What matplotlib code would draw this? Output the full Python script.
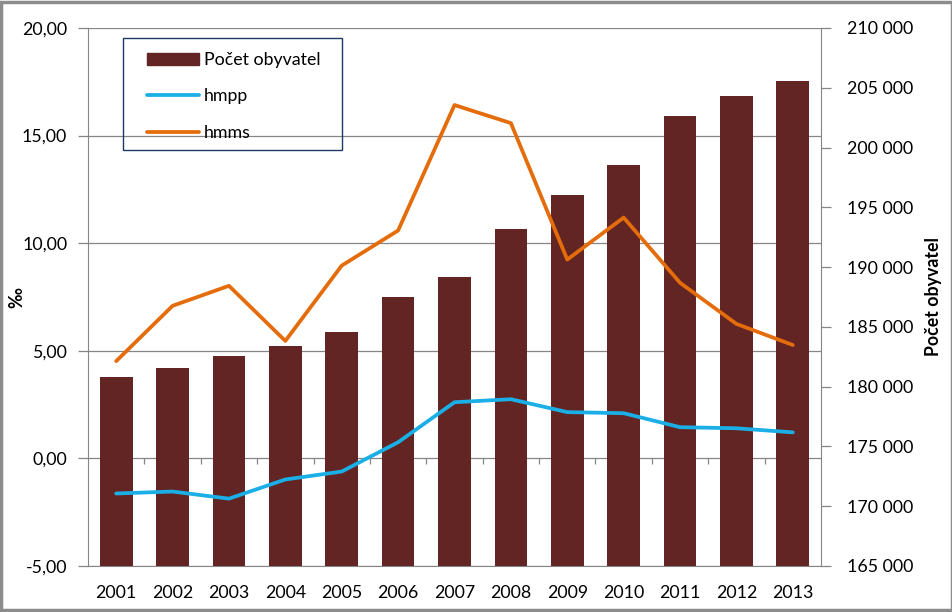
import numpy as np
import matplotlib.pyplot as plt
from matplotlib.ticker import FuncFormatter
from matplotlib.patches import Rectangle

# --- data ---
years = ["2001", "2002", "2003", "2004", "2005", "2006", "2007",
         "2008", "2009", "2010", "2011", "2012", "2013"]
pocet_obyvatel = [180800, 181600, 182550, 183400, 184550, 187500, 189200,
                  193200, 196050, 198500, 202600, 204300, 205550]
hmpp = [-1.63, -1.54, -1.87, -0.98, -0.61, 0.75, 2.61,
        2.75, 2.15, 2.10, 1.45, 1.40, 1.21]
hmms = [4.52, 7.09, 8.02, 5.46, 8.96, 10.59, 16.42,
        15.58, 9.24, 11.19, 8.16, 6.25, 5.27]

left_ticks = [-5, 0, 5, 10, 15, 20]
right_ticks = list(range(165000, 210001, 5000))

plt.rcParams["font.family"] = ["Lato", "DejaVu Sans"]
plt.rcParams["font.size"] = 12.8

BAR = "#632523"
BLUE = "#1AAFE6"
ORANGE = "#E46C0A"
GRID = "#868686"

fig = plt.figure(figsize=(9.53, 6.12), dpi=100)
W, H = 953, 612
pos = [88 / W, 1 - 566 / H, (821 - 88) / W, (566 - 28) / H]

x = np.arange(len(years))

# left axis: gridlines + ticks (bottom layer)
ax = fig.add_axes(pos)
ax.set_ylim(-5, 20)
ax.set_xlim(-0.5, len(years) - 0.5)
ax.set_yticks(left_ticks)
ax.yaxis.set_major_formatter(FuncFormatter(lambda v, p: f"{v:.2f}".replace(".", ",")))
for t in left_ticks:
    ax.axhline(t, color=GRID, lw=0.9, zorder=0)
ax.set_xticks(x)
ax.set_xticklabels(years)
ax.tick_params(axis="x", length=0, pad=14)
ax.tick_params(axis="y", length=7, color=GRID, width=0.9, pad=8)
for s in ["top", "right"]:
    ax.spines[s].set_visible(False)
for s in ["left", "bottom"]:
    ax.spines[s].set_color(GRID)
ax.set_ylabel("‰", fontweight="bold")
ax.yaxis.set_label_coords(-(88 - 25) / (821 - 88), 0.5)

# right axis: bars
ax2 = ax.twinx()
ax2.bar(x, pocet_obyvatel, width=0.58, color=BAR, zorder=2)
ax2.set_ylim(165000, 210000)
ax2.set_yticks(right_ticks)
ax2.yaxis.set_major_formatter(FuncFormatter(lambda v, p: f"{int(v):,}".replace(",", " ")))
ax2.tick_params(axis="y", length=7, color=GRID, width=0.9, pad=12)
for s in ["top", "left", "bottom"]:
    ax2.spines[s].set_visible(False)
ax2.spines["right"].set_color(GRID)
ax2.set_ylabel("Počet obyvatel", fontweight="bold", labelpad=8)

# top layer: lines on left scale
ax3 = fig.add_axes(pos, sharex=ax, sharey=ax)
ax3.patch.set_visible(False)
ax3.axis("off")
# small category-boundary ticks hanging from the zero line
bounds = x[:-1] + 0.5
ax3.vlines(bounds, -0.25, 0, color=GRID, lw=0.9, zorder=1)
l1, = ax3.plot(x, hmpp, color=BLUE, lw=2.7, solid_capstyle="round", zorder=3)
l2, = ax3.plot(x, hmms, color=ORANGE, lw=2.7, solid_capstyle="round", zorder=3)

# legend: frame drawn separately so it can be wider than the entries
fig.patches.append(Rectangle((123 / W, 1 - 150 / H), (342 - 123) / W, (150 - 38) / H,
                             transform=fig.transFigure, fill=False,
                             edgecolor="#1F3864", lw=1.0, zorder=5))
h_bar = Rectangle((0, 0), 1, 1, color=BAR)
fig.legend([h_bar, l1, l2], ["Počet obyvatel", "hmpp", "hmms"],
           loc="upper left", bbox_to_anchor=(147 / W, 1 - 52 / H),
           frameon=False, borderpad=0, labelspacing=1.15, handlelength=2.9,
           handletextpad=0.3, borderaxespad=0)

# outer border
fig.patches.append(Rectangle((0.0015, 0.0025), 0.997, 0.995, transform=fig.transFigure,
                             fill=False, edgecolor="#8C8C8C", lw=2.5))

plt.savefig("out.png", dpi=100)
